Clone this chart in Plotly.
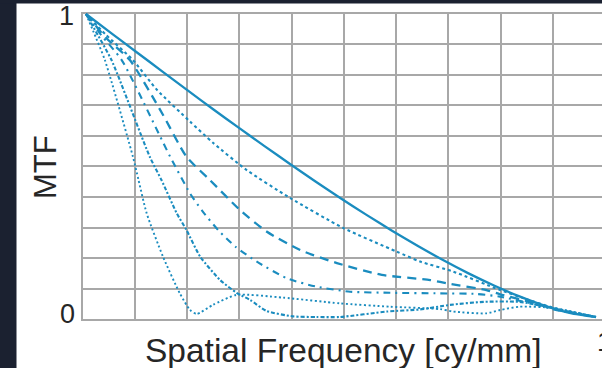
import plotly.graph_objects as go

# ---- data (normalised spatial frequency, MTF) ----
freq_solid = [0, 0.05, 0.10, 0.15, 0.20, 0.25, 0.30, 0.35, 0.40, 0.45, 0.50,
              0.55, 0.60, 0.65, 0.70, 0.75, 0.80, 0.85, 0.90, 0.95, 1.0]
mtf_solid = [1, 0.936, 0.873, 0.810, 0.747, 0.685, 0.624, 0.564, 0.505, 0.447, 0.391,
             0.337, 0.285, 0.235, 0.188, 0.144, 0.104, 0.068, 0.037, 0.013, 0.0]

freq_shortdash = [0, 0.04, 0.092, 0.139, 0.204, 0.249, 0.315, 0.40, 0.504, 0.609,
                  0.655, 0.72, 0.812, 0.87, 0.93, 1.0]
mtf_shortdash = [1, 0.93, 0.848, 0.75, 0.645, 0.575, 0.485, 0.393, 0.294, 0.216,
                 0.183, 0.150, 0.089, 0.055, 0.024, 0.0]

freq_longdash = [0, 0.04, 0.086, 0.15, 0.197, 0.243, 0.302, 0.354, 0.42, 0.492, 0.58,
                 0.675, 0.714, 0.785, 0.812, 0.87, 0.93, 1.0]
mtf_longdash = [1, 0.92, 0.848, 0.67, 0.529, 0.452, 0.353, 0.282, 0.221, 0.178, 0.139,
                0.122, 0.109, 0.089, 0.075, 0.05, 0.022, 0.0]

freq_dashdot = [0, 0.03, 0.07, 0.165, 0.204, 0.229, 0.259, 0.293, 0.335, 0.3935, 0.452,
                0.518, 0.596, 0.694, 0.766, 0.812, 0.87, 0.93, 1.0]
mtf_dashdot = [1, 0.93, 0.848, 0.529, 0.408, 0.348, 0.287, 0.232, 0.1825, 0.128, 0.100,
               0.0835, 0.080, 0.078, 0.076, 0.067, 0.046, 0.02, 0.0]

freq_densedash = [0, 0.02, 0.05, 0.125, 0.148, 0.178, 0.197, 0.224, 0.263, 0.296, 0.322,
                  0.354, 0.406, 0.452, 0.498, 0.59, 0.655, 0.714, 0.78, 0.85, 0.915, 1.0]
mtf_densedash = [1, 0.94, 0.848, 0.529, 0.452, 0.342, 0.287, 0.199, 0.122, 0.079, 0.056,
                 0.02, 0.002, 0.0, 0.0, 0.018, 0.025, 0.04, 0.05, 0.05, 0.03, 0.0]

freq_dotted = [0, 0.015, 0.037, 0.092, 0.103, 0.119, 0.151, 0.184, 0.204, 0.217, 0.249,
               0.295, 0.386, 0.498, 0.596, 0.694, 0.72, 0.785, 0.812, 0.85, 0.915, 1.0]
mtf_dotted = [1, 0.94, 0.848, 0.529, 0.452, 0.342, 0.199, 0.078, 0.023, 0.01, 0.04,
              0.073, 0.064, 0.045, 0.034, 0.026, 0.018, 0.012, 0.023, 0.034, 0.03, 0.0]

y_tick_labels = ["0", "1"]
x_tick_labels = ["1"]
x_title = "Spatial Frequency [cy/mm]"
y_title = "MTF"

# ---- layout geometry (pixels) ----
W, H = 602, 368
L, R, T, B = 81, 0, 12, 47
X0PX, X1PX = 86.0, 596.0      # pixel of freq 0 and 1
Y1PX, Y0PX = 14.0, 317.0      # pixel of mtf 1 and 0
pw, ph = W - L - R, H - T - B
sx = (X1PX - X0PX)
sy = (Y0PX - Y1PX)
xmin = (L - X0PX) / sx
xmax = (W - R - X0PX) / sx
ymax = (Y0PX - T) / sy
ymin = (Y0PX - (H - B)) / sy

grid_x = [(82.3 + 52.3 * k - X0PX) / sx for k in range(10)]
grid_y = [(Y0PX - (13.3 + 30.63 * k)) / sy for k in range(11)]

COLOR = "#1a8cbf"
series = [
    (freq_solid, mtf_solid, dict(width=2.3)),
    (freq_shortdash, mtf_shortdash, dict(width=2.1, dash="3px,3px")),
    (freq_longdash, mtf_longdash, dict(width=2.3, dash="9px,6px")),
    (freq_dashdot, mtf_dashdot, dict(width=2.1, dash="7px,5px,2px,5px")),
    (freq_densedash, mtf_densedash, dict(width=2.1, dash="4px,2px,2px,2px")),
    (freq_dotted, mtf_dotted, dict(width=1.9, dash="2px,2.5px")),
]

fig = go.Figure()
for fx, fy, ln in series:
    fig.add_trace(go.Scatter(x=fx, y=fy, mode="lines",
                             line=dict(color=COLOR, shape="spline", smoothing=0.6, **ln),
                             hoverinfo="skip", showlegend=False))

def pxx(px):
    return (px - L) / pw

def pxy(py):
    return ((H - B) - py) / ph

FONT = "Liberation Sans, Arial, Helvetica, sans-serif"
TXT = "#262626"
annotations = [
    dict(text=y_tick_labels[1], x=pxx(66), y=pxy(16), font=dict(size=27)),
    dict(text=y_tick_labels[0], x=pxx(67), y=pxy(314), font=dict(size=27)),
    dict(text=x_tick_labels[0], x=pxx(604), y=pxy(342), font=dict(size=27)),
    dict(text=x_title, x=pxx(343), y=pxy(350), font=dict(size=33.5)),
    dict(text=y_title, x=pxx(46), y=pxy(167), font=dict(size=31), textangle=-90),
]
for a in annotations:
    a.update(xref="paper", yref="paper", showarrow=False, xanchor="center", yanchor="middle")
    a["font"].update(family=FONT, color=TXT)

DARK = "#1b2130"
shapes = [
    dict(type="rect", xref="paper", yref="paper", x0=pxx(-5), x1=pxx(16.5), y0=pxy(H + 5), y1=pxy(-5),
         fillcolor=DARK, line=dict(width=0), layer="above"),
    dict(type="rect", xref="paper", yref="paper", x0=pxx(-5), x1=pxx(W + 5), y0=pxy(3.5), y1=pxy(-5),
         fillcolor=DARK, line=dict(width=0), layer="above"),
]

fig.update_layout(
    width=W, height=H,
    margin=dict(l=L, r=R, t=T, b=B, pad=0),
    paper_bgcolor="white", plot_bgcolor="white",
    xaxis=dict(range=[xmin, xmax], tickvals=grid_x, showticklabels=False, ticks="",
               showgrid=True, gridcolor="#a8a8a8", gridwidth=1.6, zeroline=False,
               showline=False, fixedrange=True),
    yaxis=dict(range=[ymin, ymax], tickvals=grid_y, showticklabels=False, ticks="",
               showgrid=True, gridcolor="#a8a8a8", gridwidth=1.6, zeroline=False,
               showline=False, fixedrange=True),
    annotations=annotations,
    shapes=shapes,
)

fig.write_html("out.html", config={"displayModeBar": False},
               post_script="document.body.style.margin='0';document.body.style.overflow='hidden';")
